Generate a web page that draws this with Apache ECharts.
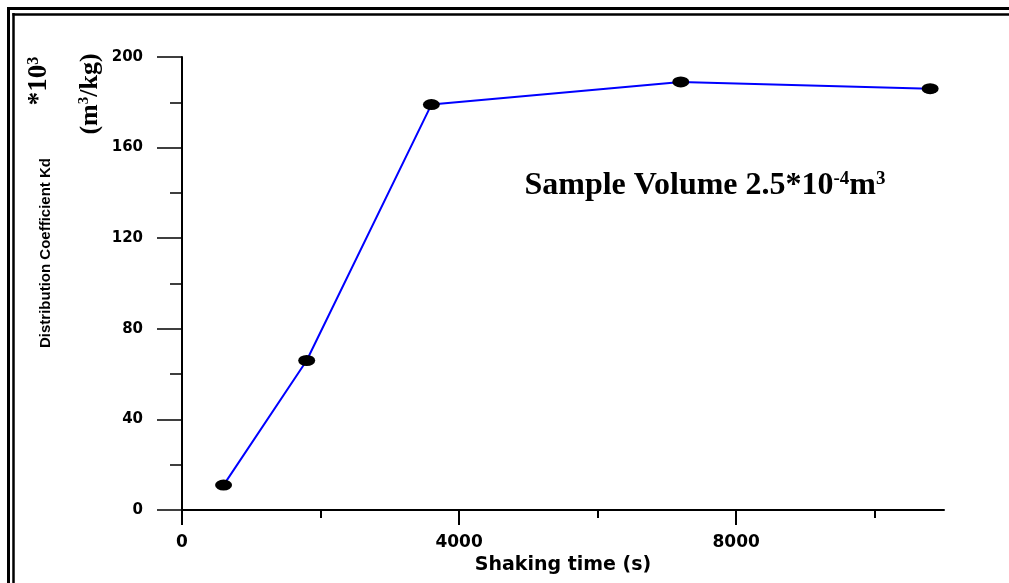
<!DOCTYPE html>
<html>
<head>
<meta charset="utf-8">
<script src="https://cdn.jsdelivr.net/npm/echarts@6/dist/echarts.min.js"></script>
<style>html,body{margin:0;padding:0;background:#fff;}#c{width:1009px;height:583px;}</style>
</head>
<body>
<div id="c"></div>
<script>
// Data
var shakingTime = [600, 1800, 3600, 7200, 10800];          // s
var kdValues    = [11, 66, 179, 189, 186];                  // *10^3 m^3/kg
var xMajorTicks = [0, 4000, 8000];
var xMinorTicks = [2000, 6000, 10000];
var yMin = 0, yMax = 200, yStep = 40;
var xMin = 0, xMax = 11000;

var points = shakingTime.map(function (t, i) { return [t, kdValues[i]]; });

var chart = echarts.init(document.getElementById('c'), null, {renderer: 'canvas'});
var serif = "'Liberation Serif', 'Times New Roman', serif";
var sans = "'DejaVu Sans', sans-serif";

chart.setOption({
  animation: false,
  backgroundColor: '#ffffff',
  grid: {left: 182, right: 65, top: 57, bottom: 73},
  xAxis: [{
    type: 'value', min: xMin, max: xMax,
    name: 'Shaking time (s)', nameLocation: 'middle', nameGap: 40,
    nameTextStyle: {fontFamily: sans, fontWeight: 'bold', fontSize: 19, color: '#000'},
    axisLine: {show: true, lineStyle: {color: '#000', width: 2}},
    axisTick: {show: true, length: 15, lineStyle: {color: '#000', width: 2}, customValues: xMajorTicks},
    axisLabel: {show: true, margin: 24, fontFamily: sans, fontWeight: 'bold', fontSize: 17, color: '#000',
      customValues: xMajorTicks, formatter: function (v) { return String(v); }},
    splitLine: {show: false}
  }, {
    type: 'value', min: xMin, max: xMax, position: 'bottom',
    axisLine: {show: false},
    axisTick: {show: true, length: 8, lineStyle: {color: '#000', width: 2}, customValues: xMinorTicks},
    axisLabel: {show: false},
    splitLine: {show: false}
  }],
  yAxis: {
    type: 'value', min: yMin, max: yMax, interval: yStep,
    axisLine: {show: true, lineStyle: {color: '#000', width: 2}},
    axisTick: {show: true, length: 25, lineStyle: {color: '#000', width: 1.5}},
    minorTick: {show: true, splitNumber: 2, length: 12, lineStyle: {color: '#000', width: 1.5}},
    axisLabel: {margin: 39, fontFamily: sans, fontWeight: 'bold', fontSize: 15, color: '#000',
      formatter: function (v) { return String(v); }},
    splitLine: {show: false}
  },
  series: [{
    type: 'line',
    xAxisIndex: 0,
    data: points,
    symbol: 'circle',
    symbolSize: [17, 11],
    itemStyle: {color: '#000'},
    lineStyle: {color: '#0000ff', width: 2},
    z: 3
  }],
  graphic: [
    // double frame (left & top)
    {type: 'line', shape: {x1: 8.5, y1: 7, x2: 8.5, y2: 583}, style: {stroke: '#000', lineWidth: 3}},
    {type: 'line', shape: {x1: 7, y1: 8.5, x2: 1009, y2: 8.5}, style: {stroke: '#000', lineWidth: 3}},
    {type: 'line', shape: {x1: 13.5, y1: 13, x2: 13.5, y2: 583}, style: {stroke: '#000', lineWidth: 2.5}},
    {type: 'line', shape: {x1: 12.5, y1: 14.5, x2: 1009, y2: 14.5}, style: {stroke: '#000', lineWidth: 2.5}},
    // y axis titles
    {type: 'text', x: 46, y: 253, rotation: Math.PI / 2,
      style: {text: 'Distribution Coefficient Kd', fontFamily: "'Liberation Sans', Arial, sans-serif", fontWeight: 'bold', fontSize: 15, fill: '#000', align: 'center', verticalAlign: 'middle'}},
    {type: 'text', x: 39, y: 81, rotation: Math.PI / 2,
      style: {text: '{m|*10}{s|3}', fill: '#000', align: 'center', verticalAlign: 'middle',
        rich: {m: {fontFamily: serif, fontWeight: 'bold', fontSize: 27, fill: '#000', verticalAlign: 'bottom'},
               s: {fontFamily: serif, fontWeight: 'bold', fontSize: 16, fill: '#000', verticalAlign: 'top'}}}},
    {type: 'text', x: 90, y: 94, rotation: Math.PI / 2,
      style: {text: '{m|(m}{s|3}{m|/kg)}', fill: '#000', align: 'center', verticalAlign: 'middle',
        rich: {m: {fontFamily: serif, fontWeight: 'bold', fontSize: 26, fill: '#000', verticalAlign: 'bottom'},
               s: {fontFamily: serif, fontWeight: 'bold', fontSize: 15, fill: '#000', verticalAlign: 'top'}}}},
    // annotation
    {type: 'text', x: 705, y: 186,
      style: {text: '{m|Sample Volume 2.5*10}{s|-4}{m|m}{s|3}', fill: '#000', align: 'center', verticalAlign: 'middle',
        rich: {m: {fontFamily: serif, fontWeight: 'bold', fontSize: 32, fill: '#000', verticalAlign: 'bottom'},
               s: {fontFamily: serif, fontWeight: 'bold', fontSize: 19, fill: '#000', verticalAlign: 'top'}}}}
  ]
});
</script>
</body>
</html>
